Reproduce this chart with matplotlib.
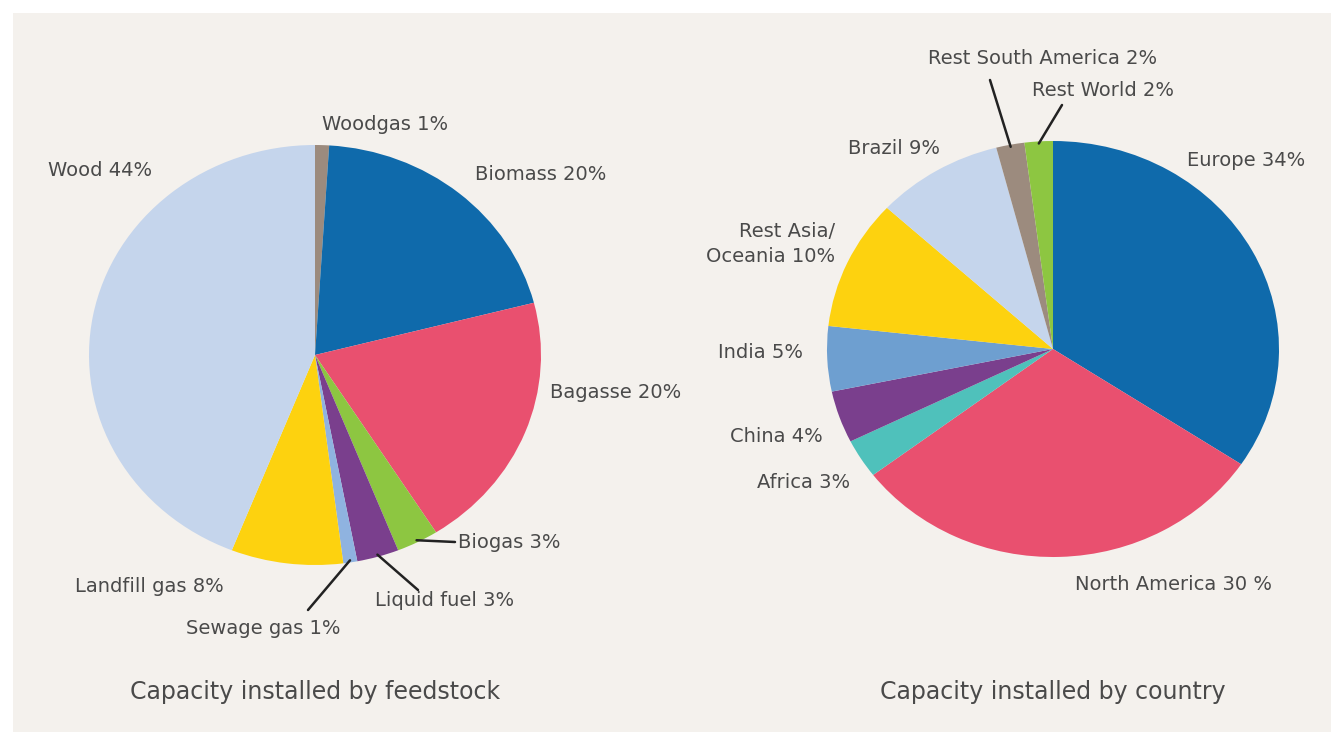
import numpy as np
import matplotlib.pyplot as plt
from matplotlib.patches import Rectangle

W, H = 1343, 744

# datos: capacidad instalada por materia prima
feed_labels = ["Woodgas 1%", "Biomass 20%", "Bagasse 20%", "Biogas 3%",
               "Liquid fuel 3%", "Sewage gas 1%", "Landfill gas 8%", "Wood 44%"]
feed_values = [1, 20, 20, 3, 3, 1, 8, 44]
feed_colors = ["#9c8b7e", "#0f6aab", "#e9506f", "#8dc641",
               "#7a3f8d", "#8fb3e0", "#fdd20f", "#c5d5ec"]

# datos: capacidad instalada por pais/region
country_labels = ["Europe 34%", "North America 30 %", "Africa 3%", "China 4%",
                  "India 5%", "Rest Asia/\nOceania 10%", "Brazil 9%",
                  "Rest South America 2%", "Rest World 2%"]
country_values = [34, 30, 3, 4, 5, 10, 9, 2, 2]
country_colors = ["#0f6aab", "#e9506f", "#4fc1bb", "#7a3f8d",
                  "#6e9fd0", "#fdd20f", "#c5d5ec", "#9c8b7e", "#8dc641"]

# posiciones de las etiquetas en pixeles (x, y, alineacion) y si llevan linea
feed_pos = [(322, 125, "left"), (475, 175, "left"), (550, 392, "left"),
            (458, 542, "left"), (375, 601, "left"), (186, 628, "left"),
            (75, 587, "left"), (48, 170, "left")]
feed_lines = {3: (455, 542), 4: (418, 590), 5: (308, 610)}
country_pos = [(1187, 160, "left"), (1075, 585, "left"), (757, 482, "left"),
               (730, 437, "left"), (718, 352, "left"), (835, 244, "right"),
               (848, 148, "left"), (928, 58, "left"), (1032, 90, "left")]
country_lines = {7: (990, 80), 8: (1062, 105)}

txt_color = "#4a4a4a"
fig = plt.figure(figsize=(W / 100, H / 100), dpi=100, facecolor="#f4f1ed")
fig.add_artist(Rectangle((0, 0), 1, 1, transform=fig.transFigure, fill=False,
                         edgecolor="white", linewidth=18))


def fpos(x, y):
    return x / W, 1 - y / H


def draw_pie(cx, cy, rx, ry, values, colors, labels, pos, lines, title):
    ax = fig.add_axes([(cx - rx) / W, 1 - (cy + ry) / H, 2 * rx / W, 2 * ry / H])
    wedges, _ = ax.pie(values, colors=colors, startangle=90, counterclock=False,
                       radius=1, wedgeprops=dict(linewidth=0))
    ax.set_xlim(-1, 1)
    ax.set_ylim(-1, 1)
    ax.set_aspect("auto")
    ax.axis("off")
    for i, w in enumerate(wedges):
        x, y, ha = pos[i]
        fx, fy = fpos(x, y)
        fig.text(fx, fy, labels[i], ha=ha, va="center", fontsize=14,
                 color=txt_color, family="DejaVu Sans", linespacing=1.35)
        if i in lines:
            ang = np.deg2rad((w.theta1 + w.theta2) / 2)
            x0, y0 = 0.99 * np.cos(ang), 0.99 * np.sin(ang)
            lx, ly = fpos(*lines[i])
            ax.annotate("", xy=(x0, y0), xycoords="data",
                        xytext=(lx, ly), textcoords="figure fraction",
                        arrowprops=dict(arrowstyle="-", color="#222222", lw=1.8,
                                        shrinkA=0, shrinkB=0))
    tx, ty = fpos(cx, 692)
    fig.text(tx, ty, title, ha="center", va="center", fontsize=17,
             color=txt_color, family="DejaVu Sans")


draw_pie(315, 355, 226, 210, feed_values, feed_colors, feed_labels,
         feed_pos, feed_lines, "Capacity installed by feedstock")
draw_pie(1053, 349, 226, 208, country_values, country_colors, country_labels,
         country_pos, country_lines, "Capacity installed by country")

plt.savefig("out.png", dpi=100, facecolor=fig.get_facecolor())
